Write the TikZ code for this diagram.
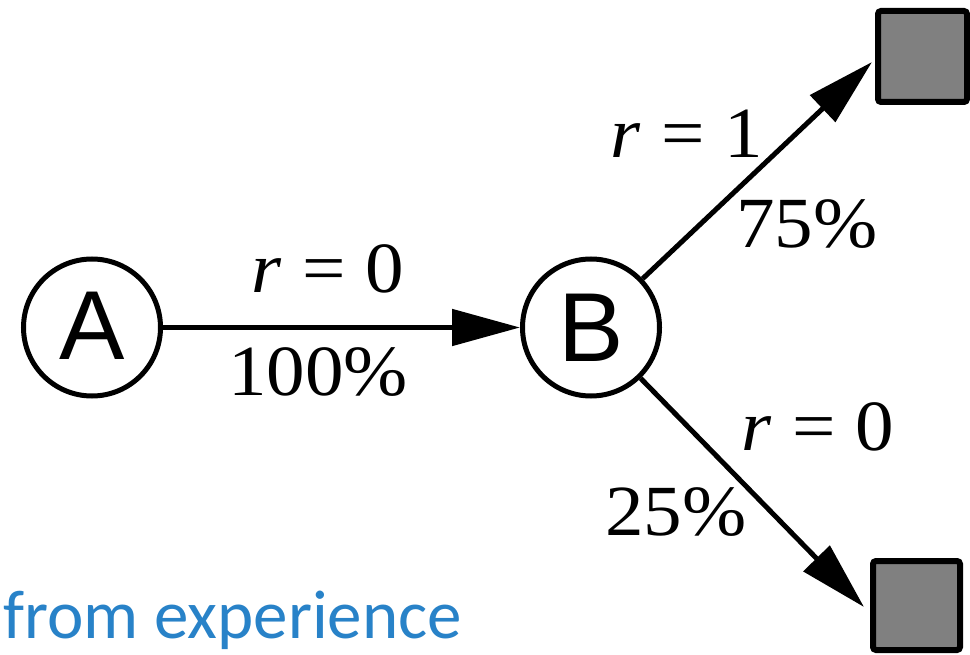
\documentclass[tikz,border=0pt]{standalone}
\usepackage{fontspec}
\setmainfont{Liberation Serif}
\newfontfamily\lblfont[FakeStretch=1.07]{Liberation Serif}
\newfontfamily\statefont{Liberation Sans}
\newfontfamily\notefont{Carlito}
\usetikzlibrary{arrows.meta}
\definecolor{noteblue}{RGB}{40,130,200}
\definecolor{termgray}{RGB}{128,128,128}
\tikzset{
  statenode/.style={circle, draw=black, line width=5pt, minimum size=137pt, inner sep=0pt,
    font=\statefont\fontsize{98}{100}\selectfont},
  termnode/.style={rectangle, draw=black, fill=termgray, line width=6pt, rounded corners=3pt, inner sep=0pt},
  edgeline/.style={line width=5pt, -{Triangle[length=68pt,width=36pt]}},
  edgelabel/.style={anchor=base, inner sep=0pt, font=\lblfont\fontsize{72}{80}\selectfont},
}
\newcommand{\req}[1]{{\itshape r}\hspace{0.28em}=\hspace{0.28em}#1}
\begin{document}
\begin{tikzpicture}[x=1pt,y=-1pt]
\useasboundingbox (0,0) rectangle (970,655);
\node[statenode] (A) at (92,327.5) {\raisebox{3pt}{A}};
\node[statenode] (B) at (591,327.5) {B};
\node[termnode, minimum width=89pt, minimum height=91pt] (T1) at (922.5,56.5) {};
\node[termnode, minimum width=87pt, minimum height=89pt] (T2) at (916.5,605.5) {};
\coordinate (tip1) at (872,62);
\coordinate (tip2) at (864,607);
\draw[edgeline] (A) -- (B);
\draw[edgeline] (B) -- (tip1);
\draw[edgeline] (B) -- (tip2);
\node[edgelabel] (l1) at (328,293) {\req{0}};
\node[edgelabel] (l2) at (318,395) {100\%};
\node[edgelabel] (l3) at (687,158) {\req{1}};
\node[edgelabel] (l4) at (807,248) {75\%};
\node[edgelabel] (l5) at (818,450) {\req{0}};
\node[edgelabel] (l6) at (676,535) {25\%};
\node[anchor=base west, inner sep=0pt, text=noteblue, font=\notefont\fontsize{69}{72}\selectfont] (note) at (3,638) {from experience};
\end{tikzpicture}
\end{document}
